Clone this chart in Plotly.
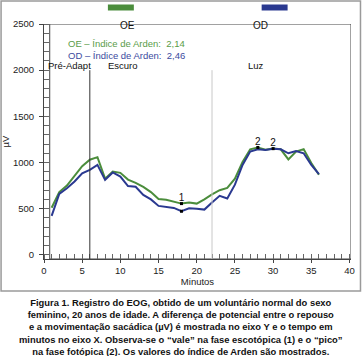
import plotly.graph_objects as go

minutes = list(range(1, 37))
oe = [510, 680, 750, 855, 960, 1030, 1058, 825, 903, 888, 815, 780, 735, 680, 605, 597,
      578, 555, 567, 555, 600, 655, 700, 725, 825, 1005, 1143, 1163, 1138, 1152, 1143,
      1033, 1118, 1145, 995, 868]
od = [422, 660, 721, 794, 884, 920, 974, 812, 892, 848, 745, 737, 649, 600, 530, 518,
      508, 472, 505, 498, 490, 568, 639, 610, 760, 974, 1118, 1143, 1136, 1150, 1143,
      1100, 1125, 1100, 974, 873]
series_names = ["OE", "OD"]
arden = ["2,14", "2,46"]
phase_labels = ["Pré-Adapt", "Escuro", "Luz"]
phase_label_x = [3.4, 10.3, 27.8]
phase_lines = [6, 22]
valley_idx = 17   # minute 18 -> "1"
peak_oe_idx = 27  # minute 28 -> "2"
peak_od_idx = 29  # minute 30 -> "2"

GREEN = "#4b8d3c"
BLUE = "#2a3990"
GREEN_T = "#5a9c48"
BLUE_T = "#3b4a9e"
FONT = "Liberation Sans, Arial, sans-serif"

L, R, T, B = 44, 10.5, 24, 97
W, H = 362, 356
PW, PH = W - L - R, H - T - B

def px(x):
    return (x - L) / PW

def py(y):
    return (H - B - y) / PH

fig = go.Figure()
fig.add_trace(go.Scatter(x=minutes, y=oe, mode="lines", name=series_names[0],
                         line=dict(color=GREEN, width=2)))
fig.add_trace(go.Scatter(x=minutes, y=od, mode="lines", name=series_names[1],
                         line=dict(color=BLUE, width=2)))
mk_x = [minutes[valley_idx], minutes[valley_idx], minutes[peak_oe_idx], minutes[peak_od_idx]]
mk_y = [oe[valley_idx], od[valley_idx], oe[peak_oe_idx], od[peak_od_idx]]
fig.add_trace(go.Scatter(x=mk_x, y=mk_y, mode="markers",
                         marker=dict(color="black", size=3, symbol="square"),
                         showlegend=False, hoverinfo="skip"))
fig.add_trace(go.Scatter(x=[minutes[valley_idx], minutes[peak_oe_idx], minutes[peak_od_idx]],
                         y=[oe[valley_idx], oe[peak_oe_idx], od[peak_od_idx]],
                         mode="text", text=["1", "2", "2"], textposition="top center",
                         textfont=dict(size=10, color="#111", family=FONT),
                         showlegend=False, hoverinfo="skip", cliponaxis=False))

shapes = []
shapes.append(dict(type="rect", xref="x", yref="y", x0=0.75, x1=40.2, y0=-45, y1=2500,
                   line=dict(color="#444", width=1), layer="below"))
shapes.append(dict(type="line", xref="x", yref="y", x0=phase_lines[0], x1=phase_lines[0],
                   y0=-45, y1=2000, line=dict(color="#333", width=1)))
shapes.append(dict(type="line", xref="x", yref="y", x0=phase_lines[1], x1=phase_lines[1],
                   y0=-45, y1=2000, line=dict(color="#c8c8c8", width=1)))
shapes.append(dict(type="rect", xref="paper", yref="paper", x0=px(108), x1=px(134),
                   y0=py(10.5), y1=py(4.5), fillcolor=GREEN, line=dict(width=0)))
shapes.append(dict(type="rect", xref="paper", yref="paper", x0=px(262), x1=px(288),
                   y0=py(10.5), y1=py(4.5), fillcolor=BLUE, line=dict(width=0)))
shapes.append(dict(type="rect", xref="paper", yref="paper", x0=px(1), x1=px(361),
                   y0=py(291), y1=py(1), line=dict(color="#9a9a9a", width=1.5)))

ann = []
ann.append(dict(x=px(118), y=py(18), xref="paper", yref="paper", text=series_names[0],
                showarrow=False, font=dict(size=10, color="#111", family=FONT)))
ann.append(dict(x=px(270), y=py(18), xref="paper", yref="paper", text=series_names[1],
                showarrow=False, font=dict(size=10, color="#111", family=FONT)))
ann.append(dict(x=px(66), y=py(36), xref="paper", yref="paper", xanchor="left",
                text=f"{series_names[0]} – Índice de Arden:  {arden[0]}",
                showarrow=False, font=dict(size=9.5, color=GREEN_T, family=FONT)))
ann.append(dict(x=px(66), y=py(47.5), xref="paper", yref="paper", xanchor="left",
                text=f"{series_names[1]} – Índice de Arden:  {arden[1]}",
                showarrow=False, font=dict(size=9.5, color=BLUE_T, family=FONT)))
for lab, lx in zip(phase_labels, phase_label_x):
    ann.append(dict(x=lx, y=2050, xref="x", yref="y", text=lab, showarrow=False,
                    font=dict(size=9.5, color="#111", family=FONT)))
caption = ("Figura 1. Registro do EOG, obtido de um voluntário normal do sexo<br>"
           "feminino, 20 anos de idade. A diferença de potencial entre o repouso<br>"
           "e a movimentação sacádica (µV) é mostrada no eixo Y e o tempo em<br>"
           "minutos no eixo X. Observa-se o “vale” na fase escotópica (1) e o “pico”<br>"
           "na fase fotópica (2). Os valores do índice de Arden são mostrados.")
ann.append(dict(x=px(181), y=py(295), xref="paper", yref="paper", xanchor="center",
                yanchor="top", text="<b>" + caption + "</b>", showarrow=False, align="center",
                font=dict(size=9.4, color="#111", family=FONT)))

fig.update_layout(
    width=W, height=H, margin=dict(l=L, r=R, t=T, b=B, autoexpand=False),
    paper_bgcolor="white", plot_bgcolor="white", showlegend=False,
    font=dict(family=FONT, size=9, color="#222"),
    shapes=shapes, annotations=ann,
    xaxis=dict(range=[0, 40.2], tickmode="linear", tick0=0, dtick=5, showgrid=False,
               zeroline=False, showline=True, linecolor="#444", linewidth=1,
               automargin=False,
               ticks="outside", ticklen=3, tickcolor="#444",
               minor=dict(dtick=1, ticks="inside", ticklen=5, tickcolor="#666"),
               tickfont=dict(size=9.5, family=FONT, color="#222"),
               title=dict(text="Minutos", font=dict(size=9.5, family=FONT, color="#222"),
                          standoff=2)),
    yaxis=dict(range=[-45, 2500], tickmode="array", tickvals=[0, 500, 1000, 1500, 2000, 2500],
               showgrid=False, zeroline=False, showline=True, linecolor="#444", linewidth=1,
               automargin=False,
               ticks="outside", ticklen=4, tickcolor="#444", ticklabelstandoff=3,
               minor=dict(dtick=100, ticks="inside", ticklen=5, tickcolor="#666"),
               tickfont=dict(size=9.5, family=FONT, color="#222"),
               title=dict(text="µV", font=dict(size=9.5, family=FONT, color="#222"),
                          standoff=2)),
)
fig.write_html("out.html", config={"displayModeBar": False},
               post_script="document.body.style.margin='0';document.body.style.overflow='hidden';")
